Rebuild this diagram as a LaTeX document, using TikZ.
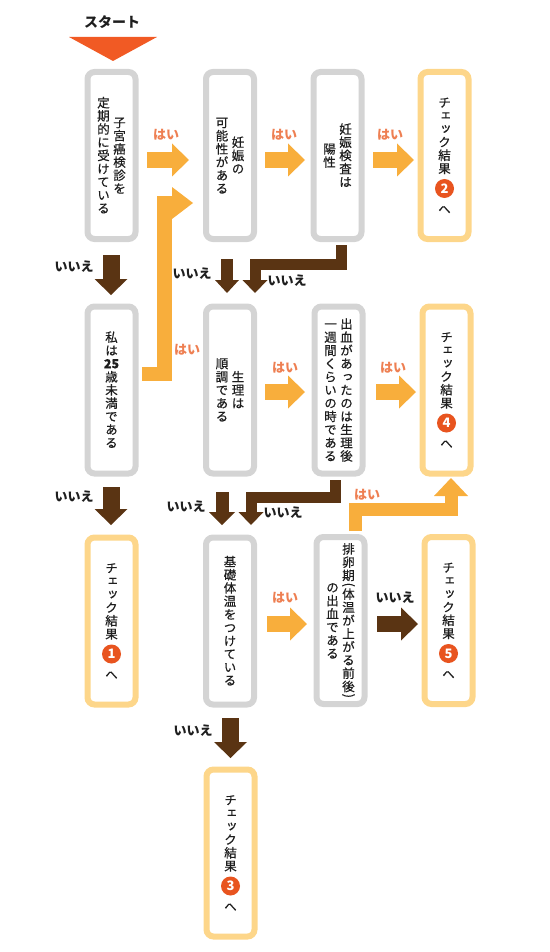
\documentclass[tikz,border=0pt]{standalone}
\usepackage{fontspec}
\usepackage{graphicx}
\usetikzlibrary{calc}
\newfontfamily\jpv[RawFeature=+vert,FakeBold=0.5]{Noto Sans CJK JP}
\newfontfamily\jph{Noto Sans CJK JP}
\definecolor{boxgray}{HTML}{D4D4D4}
\definecolor{resorange}{HTML}{FDD68A}
\definecolor{yescol}{HTML}{F8AE3C}
\definecolor{nocol}{HTML}{5A3413}
\definecolor{yeslabel}{HTML}{EE7F52}
\definecolor{numcol}{HTML}{E8541F}
\definecolor{startcol}{HTML}{F15A24}
\definecolor{textcol}{HTML}{1E1E1E}
\makeatletter
\def\tc@pl{(}\def\tc@pr{)}
\newcommand\tc@paren{\hbox to 13.2pt{\hss\vbox to 5.5pt{\vss\hbox{\rotatebox{-90}{\tc@ch}}\vss}\hss}}
\newcommand\tc@cell{\hbox to 13.2pt{\hss\vrule height 11.3pt depth 1.9pt width 0pt\relax\tc@ch\hss}}
\newcommand\tcol[1]{\vbox{\offinterlineskip\@tfor\tc@ch:=#1\do{%
  \ifx\tc@ch\tc@pl\tc@paren\else\ifx\tc@ch\tc@pr\tc@paren\else\tc@cell\fi\fi}}}
\makeatother
\newcommand\twocol[2]{$\vcenter{\tcol{#2}}\kern2.8pt\vcenter{\tcol{#1}}$}
\newcommand\ahead[5]{%
  \coordinate (ahb) at ($(#3)!#5!(#2)$);
  \fill[#1] (#3) -- ($(ahb)!#4!90:(#3)$) -- ($(ahb)!#4!-90:(#3)$) -- cycle;}
\tikzset{
  qbox/.style={draw=boxgray, line width=6pt, rounded corners=7pt, minimum width=48pt,
    minimum height=167pt, inner sep=0pt, fill=white, text=textcol,
    font=\jpv\fontsize{12.5}{13}\selectfont},
  rbox/.style={qbox, draw=resorange},
  vtxt/.style={inner sep=0pt, text=textcol, font=\jpv\fontsize{12.5}{13}\selectfont},
  numc/.style={circle, fill=numcol, text=white, inner sep=0pt, minimum size=19pt,
    font=\jph\bfseries\fontsize{13}{13}\selectfont},
  yline/.style={draw=yescol, line cap=butt, line join=miter},
  nline/.style={draw=nocol, line cap=butt, line join=miter},
  yeslab/.style={inner sep=0pt, text=yeslabel, font=\jph\bfseries\fontsize{13}{13}\selectfont},
  nolab/.style={inner sep=0pt, text=textcol, font=\jph\bfseries\fontsize{13}{13}\selectfont},
}
\begin{document}
\begin{tikzpicture}[x=1pt,y=-1pt]
\useasboundingbox (0,0) rectangle (549,952);
% start
\node[inner sep=0pt, text=textcol, font=\jph\bfseries\fontsize{14}{14}\selectfont] (start) at (112,22) {スタート};
\fill[startcol] (69,37) -- (157,37) -- (113,61) -- cycle;
% row 1
\node[qbox] (b11) at (111.5,155.5) {\twocol{子宮癌検診を}{定期的に受けている}};
\node[qbox] (b12) at (230,155.5) {\twocol{妊娠の}{可能性がある}};
\node[qbox] (b13) at (337.5,155.5) {\twocol{妊娠検査は}{陽性}};
\node[rbox] (r2) at (444.5,155.5) {};
% row 2
\node[qbox] (b21) at (111.5,390) {$\vcenter{\tcol{私は{\bfseries 25}歳未満である}}$};
\node[qbox] (b22) at (230,390) {\twocol{生理は}{順調である}};
\node[qbox] (b23) at (338.5,390) {\twocol{出血があったのは生理後}{一週間くらいの時である}};
\node[rbox] (r4) at (446.5,390) {};
% row 3
\node[rbox] (r1) at (111.5,621) {};
\node[qbox] (b32) at (230,621) {$\vcenter{\tcol{基礎体温をつけている}}$};
\node[qbox] (b33) at (340.5,620.5) {\twocol{排卵期(体温が上がる前後)}{の出血である}};
\node[rbox] (r5) at (448.5,620.5) {};
% row 4
\node[rbox] (r3) at (230.5,853) {};
% result texts
\foreach \r/\n in {r1/1,r2/2,r3/3,r4/4,r5/5}{
  \node[vtxt] (\r t) at ($(\r)+(0,-20)$) {$\vcenter{\tcol{チェック結果}}$};
  \node[numc] (\r n) at ($(\r)+(0,33)$) {\n};
  \node[vtxt] (\r e) at ($(\r)+(0,54)$) {へ};
}
% yes arrows (horizontal)
\coordinate (y1a) at (147,160); \coordinate (y1b) at (189,160);
\coordinate (y2a) at (265,160); \coordinate (y2b) at (305,160);
\coordinate (y3a) at (373,160); \coordinate (y3b) at (414,160);
\coordinate (y4a) at (265,392); \coordinate (y4b) at (305,392);
\coordinate (y5a) at (376,392); \coordinate (y5b) at (416,392);
\coordinate (y6a) at (267,624); \coordinate (y6b) at (307,624);
\foreach \a in {y1,y2,y3,y4,y5,y6}{
  \draw[yline, line width=16pt, shorten >=16pt] (\a a) -- (\a b);
  \ahead{yescol}{\a a}{\a b}{16.5pt}{17pt}
}
% yes elbow from b21 to b12
\coordinate (y7a) at (142,374); \coordinate (y7b) at (164.5,374);
\coordinate (y7c) at (164.5,203); \coordinate (y7d) at (193,203);
\draw[yline, line width=14.5pt, shorten >=20pt] (y7a) -- (y7b) -- (y7c) -- (y7d);
\ahead{yescol}{y7c}{y7d}{16pt}{21pt}
% yes elbow from b33 to r4
\coordinate (y8a) at (355.5,531); \coordinate (y8b) at (355.5,509.5);
\coordinate (y8c) at (451,509.5); \coordinate (y8d) at (451,478);
\draw[yline, line width=13pt, shorten >=17pt] (y8a) -- (y8b) -- (y8c) -- (y8d);
\ahead{yescol}{y8c}{y8d}{17pt}{18pt}
% no arrows
\coordinate (n1a) at (111,255); \coordinate (n1b) at (111,295);
\coordinate (n2a) at (111,487); \coordinate (n2b) at (111,525);
\coordinate (n7a) at (230.5,718); \coordinate (n7b) at (230.5,758);
\foreach \a in {n1,n2,n7}{
  \draw[nline, line width=17pt, shorten >=15pt] (\a a) -- (\a b);
  \ahead{nocol}{\a a}{\a b}{16.5pt}{16pt}
}
\coordinate (n8a) at (377,624); \coordinate (n8b) at (418,624);
\draw[nline, line width=16pt, shorten >=16pt] (n8a) -- (n8b);
\ahead{nocol}{n8a}{n8b}{16.5pt}{17pt}
\coordinate (n3a) at (227,259); \coordinate (n3b) at (227,293);
\draw[nline, line width=12pt, shorten >=12pt] (n3a) -- (n3b);
\ahead{nocol}{n3a}{n3b}{12pt}{13pt}
\coordinate (n5a) at (222,492); \coordinate (n5b) at (222,525);
\draw[nline, line width=13pt, shorten >=12pt] (n5a) -- (n5b);
\ahead{nocol}{n5a}{n5b}{13pt}{13pt}
\coordinate (n4a) at (341,245); \coordinate (n4b) at (341,264);
\coordinate (n4c) at (255,264); \coordinate (n4d) at (255,293);
\draw[nline, line width=11pt, shorten >=12pt] (n4a) -- (n4b) -- (n4c) -- (n4d);
\ahead{nocol}{n4c}{n4d}{12.5pt}{13pt}
\coordinate (n6a) at (335.5,480); \coordinate (n6b) at (335.5,497);
\coordinate (n6c) at (251,497); \coordinate (n6d) at (251,525);
\draw[nline, line width=11pt, shorten >=12pt] (n6a) -- (n6b) -- (n6c) -- (n6d);
\ahead{nocol}{n6c}{n6d}{12.5pt}{13pt}
% labels
\foreach \p [count=\i] in {(166,135),(284,135),(390,135),(187,350),(285,368),(393,368),(285,598),(367,495)}
  \node[yeslab] (yl\i) at \p {はい};
\foreach \p [count=\i] in {(74,267),(74,497),(192,274),(287,281),(186,507),(283,513),(395,598),(193,731)}
  \node[nolab] (nl\i) at \p {いいえ};
\end{tikzpicture}
\end{document}
